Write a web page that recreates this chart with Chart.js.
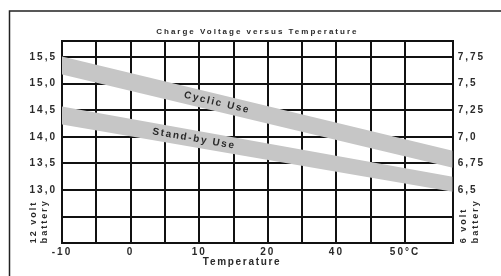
<!DOCTYPE html>
<html>
<head>
<meta charset="utf-8">
<script src="https://cdn.jsdelivr.net/npm/chart.js@4/dist/chart.umd.min.js"></script>
<style>
  html, body { margin: 0; padding: 0; background: #fff; }
</style>
</head>
<body>
<canvas id="chart" width="501" height="276"></canvas>
<script>
// x axis is in grid columns, the last column is wider than the others
const xGrid = [0, 1, 2, 3, 4, 5, 6, 7, 8, 9, 10];
const xEnd = 11.39;
const xLabels = ["-10", "", "0", "", "10", "", "20", "", "40", "", "50°C"];

// volts, 12 volt battery (left axis)
const leftTicks = [12, 12.5, 13, 13.5, 14, 14.5, 15, 15.5];
const leftLabels = ["", "", "13,0", "13,5", "14,0", "14,5", "15,0", "15,5"];
const leftTop = 15.8;
// 6 volt battery (right axis)
const rightTicks = [6, 6.25, 6.5, 6.75, 7, 7.25, 7.5, 7.75];
const rightLabels = ["", "", "6,5", "6,75", "7,0", "7,25", "7,5", "7,75"];

// bands, start and end of the plot
const bandX = [0, 11.39];
const cyclicTop = [15.51, 13.74];
const cyclicBottom = [15.17, 13.42];
const standbyTop = [14.57, 13.25];
const standbyBottom = [14.23, 12.97];

const ink = "#111";
const textCol = "#2a2a2a";
const bandCol = "#c6c6c6";
const font = "'Liberation Sans', Arial, sans-serif";

const pts = (ys) => bandX.map((x, i) => ({ x: x, y: ys[i] }));

function band(label, ys, fill) {
  return {
    label: label,
    data: pts(ys),
    fill: fill,
    backgroundColor: bandCol,
    borderColor: "rgba(0,0,0,0)",
    borderWidth: 0,
    pointRadius: 0,
    tension: 0,
  };
}

// draws the band labels, titles and frame
const extras = {
  id: "extras",
  beforeDraw(chart) {
    chart.ctx.letterSpacing = "2px";
  },
  afterDraw(chart) {
    const ctx = chart.ctx;
    const xs = chart.scales.x, ys = chart.scales.y;
    const area = chart.chartArea;
    ctx.save();
    ctx.fillStyle = textCol;

    // chart title
    ctx.letterSpacing = "2px";
    ctx.font = "bold 8px " + font;
    ctx.textAlign = "center";
    ctx.textBaseline = "middle";
    ctx.fillText("Charge Voltage versus Temperature", (area.left + area.right) / 2, 31.5);

    // x title
    ctx.letterSpacing = "1.7px";
    ctx.font = "bold 10px " + font;
    ctx.fillText("Temperature", xs.getPixelForValue(5.25), 262);

    // band labels along the bands
    const bandLabel = (text, xv, top, bot) => {
      const m0 = (top[0] + bot[0]) / 2, m1 = (top[1] + bot[1]) / 2;
      const t = (xv - bandX[0]) / (bandX[1] - bandX[0]);
      const px = xs.getPixelForValue(xv);
      const py = ys.getPixelForValue(m0 + (m1 - m0) * t);
      const ang = Math.atan2(
        ys.getPixelForValue(m1) - ys.getPixelForValue(m0),
        xs.getPixelForValue(bandX[1]) - xs.getPixelForValue(bandX[0]));
      ctx.save();
      ctx.translate(px, py);
      ctx.rotate(ang);
      ctx.letterSpacing = "1.7px";
      ctx.font = "bold 10px " + font;
      ctx.fillText(text, 0, 0);
      ctx.restore();
    };
    bandLabel("Cyclic Use", 4.52, cyclicTop, cyclicBottom);
    bandLabel("Stand-by Use", 3.85, standbyTop, standbyBottom);

    // axis titles, both read bottom to top
    const sideTitle = (lines, xs0, yBottom) => {
      lines.forEach((s, i) => {
        ctx.save();
        ctx.translate(xs0[i], yBottom);
        ctx.rotate(-Math.PI / 2);
        ctx.textAlign = "left";
        ctx.letterSpacing = "2px";
        ctx.font = "bold 9px " + font;
        ctx.fillText(s, 0, 0);
        ctx.restore();
      });
    };
    sideTitle(["12 volt", "battery"], [34, 45], area.bottom);
    sideTitle(["6 volt", "battery"], [463.5, 476], area.bottom);

    // outer frame
    ctx.strokeStyle = "#222";
    ctx.lineWidth = 1.5;
    ctx.beginPath();
    ctx.moveTo(9.5, 276);
    ctx.lineTo(9.5, 11);
    ctx.lineTo(501, 11);
    ctx.stroke();
    ctx.restore();
  },
};

const tickFont = { family: font, size: 10, weight: "bold" };

const chart = new Chart(document.getElementById("chart").getContext("2d"), {
  type: "line",
  data: {
    datasets: [
      band("Cyclic Use top", cyclicTop, "+1"),
      band("Cyclic Use bottom", cyclicBottom, false),
      band("Stand-by Use top", standbyTop, "+1"),
      band("Stand-by Use bottom", standbyBottom, false),
    ],
  },
  options: {
    responsive: false,
    animation: false,
    events: [],
    layout: { padding: { top: 41, bottom: 12.7, left: 0, right: 0 } },
    plugins: {
      legend: { display: false },
      tooltip: { enabled: false },
      title: { display: false },
    },
    scales: {
      x: {
        type: "linear",
        min: 0,
        max: xEnd,
        afterBuildTicks: (s) => { s.ticks = xGrid.map((v) => ({ value: v })); },
        afterFit: (s) => { s.height = 20; },
        grid: { color: ink, lineWidth: 2, drawTicks: false },
        border: { color: ink, width: 2 },
        ticks: {
          color: textCol,
          font: tickFont,
          padding: 3,
          maxRotation: 0,
          autoSkip: false,
          callback: (v, i) => xLabels[i],
        },
      },
      y: {
        position: "left",
        min: leftTicks[0],
        max: leftTop,
        afterBuildTicks: (s) => {
          s.ticks = leftTicks.concat([leftTop]).map((v) => ({ value: v }));
        },
        afterFit: (s) => { s.width = 62; },
        grid: { color: ink, lineWidth: 2, drawTicks: false },
        border: { color: ink, width: 2 },
        ticks: {
          color: textCol,
          font: tickFont,
          padding: 5,
          autoSkip: false,
          callback: (v, i) => leftLabels[i] || "",
        },
      },
      y2: {
        position: "right",
        min: leftTicks[0] / 2,
        max: leftTop / 2,
        afterBuildTicks: (s) => { s.ticks = rightTicks.map((v) => ({ value: v })); },
        afterFit: (s) => { s.width = 48.3; },
        grid: { drawOnChartArea: false, drawTicks: false },
        border: { color: ink, width: 2 },
        ticks: {
          color: textCol,
          font: tickFont,
          padding: 5,
          autoSkip: false,
          callback: (v, i) => rightLabels[i],
        },
      },
    },
  },
  plugins: [extras],
});
</script>
</body>
</html>
